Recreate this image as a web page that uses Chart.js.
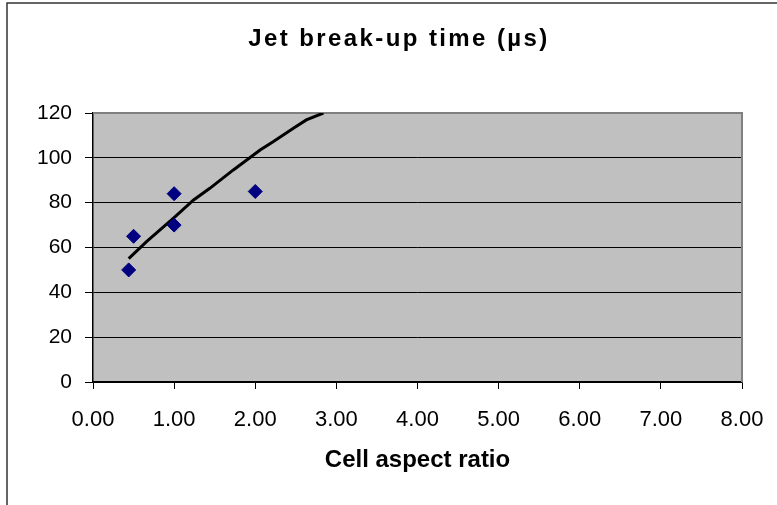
<!DOCTYPE html>
<html>
<head>
<meta charset="utf-8">
<style>
  html, body { margin: 0; padding: 0; background: #fff; }
  #wrap { width: 777px; height: 505px; position: relative; }
</style>
<script src="https://cdn.jsdelivr.net/npm/chart.js@4.4.0/dist/chart.umd.min.js"></script>
</head>
<body>
<div id="wrap"><canvas id="myChart" width="777" height="505"></canvas></div>
<script>
const titleText = 'Jet break-up time (µs)';
const xTitle = 'Cell aspect ratio';

// measured points
const aspectRatio = [0.44, 0.50, 1.00, 1.00, 2.00];
const breakupTime = [50, 65, 84, 70, 85];

// trend line
const trendX = [0.44, 0.66, 1.01, 1.24, 1.44, 1.73, 2.06, 2.22, 2.47, 2.63, 2.84];
const trendY = [55, 62.6, 73.7, 81.2, 86.4, 94.6, 103.5, 107.2, 113.2, 116.9, 120];

const xTicks = [0, 1, 2, 3, 4, 5, 6, 7, 8];
const yTicks = [0, 20, 40, 60, 80, 100, 120];

const fontFamily = "'Liberation Sans', Arial, sans-serif";

const framePlugin = {
    id: 'frame',
    beforeDraw(chart) {
        const c = chart.ctx;
        const a = chart.chartArea;
        c.save();
        c.fillStyle = '#fff';
        c.fillRect(0, 0, chart.width, chart.height);
        c.strokeStyle = '#333';
        c.lineWidth = 1.5;
        c.strokeRect(7, 3, 1000, 1000);
        c.fillStyle = '#c0c0c0';
        c.fillRect(a.left, a.top, a.right - a.left, a.bottom - a.top);
        // title
        c.fillStyle = '#000';
        c.font = 'bold 24px ' + fontFamily;
        c.letterSpacing = '2.4px';
        c.textAlign = 'center';
        c.textBaseline = 'alphabetic';
        c.fillText(titleText, 399, 46);
        c.restore();
    },
    beforeDatasetsDraw(chart) {
        const c = chart.ctx;
        const a = chart.chartArea;
        c.save();
        c.strokeStyle = '#808080';
        c.lineWidth = 2;
        c.beginPath();
        c.moveTo(a.left, a.top);
        c.lineTo(a.right, a.top);
        c.lineTo(a.right, a.bottom);
        c.stroke();
        c.restore();
    }
};

const ctx = document.getElementById('myChart').getContext('2d');
const myChart = new Chart(ctx, {
    type: 'scatter',
    data: {
        datasets: [{
            label: 'break-up time',
            data: aspectRatio.map((x, i) => ({x: x, y: breakupTime[i]})),
            pointStyle: 'rectRot',
            pointRadius: 7,
            backgroundColor: '#000080',
            borderColor: '#000080',
            borderWidth: 1
        }, {
            label: 'trend',
            data: trendX.map((x, i) => ({x: x, y: trendY[i]})),
            showLine: true,
            pointRadius: 0,
            borderColor: '#000',
            borderWidth: 3,
            tension: 0
        }]
    },
    options: {
        responsive: false,
        animation: false,
        layout: { padding: { left: 0, right: 35, top: 113, bottom: 0 } },
        plugins: {
            legend: { display: false },
            tooltip: { enabled: false }
        },
        scales: {
            x: {
                type: 'linear',
                min: 0,
                max: 8,
                afterBuildTicks: s => { s.ticks = xTicks.map(v => ({value: v})); },
                afterFit: s => { s.height = 123; s.paddingLeft = 0; s.paddingRight = 0; },
                ticks: {
                    color: '#000',
                    padding: 18,
                    maxRotation: 0,
                    font: { family: fontFamily, size: 22 },
                    callback: v => Number(v).toFixed(2)
                },
                grid: { drawOnChartArea: false, tickLength: 7, tickColor: '#000' },
                border: { color: '#000', width: 1.5 },
                title: {
                    display: true,
                    text: xTitle,
                    color: '#000',
                    font: { family: fontFamily, size: 24, weight: 'bold' },
                    padding: { top: 0, bottom: 30 }
                }
            },
            y: {
                min: 0,
                max: 120,
                afterBuildTicks: s => { s.ticks = yTicks.map(v => ({value: v})); },
                afterFit: s => { s.width = 93; s.paddingTop = 0; s.paddingBottom = 0; },
                ticks: {
                    color: '#000',
                    padding: 13,
                    font: { family: fontFamily, size: 21 }
                },
                grid: {
                    color: c => c.tick && c.tick.value === 120 ? 'rgba(0,0,0,0)' : '#000',
                    tickLength: 8,
                    tickColor: '#000'
                },
                border: { color: '#000', width: 1.5 }
            }
        }
    },
    plugins: [framePlugin]
});
</script>
</body>
</html>
